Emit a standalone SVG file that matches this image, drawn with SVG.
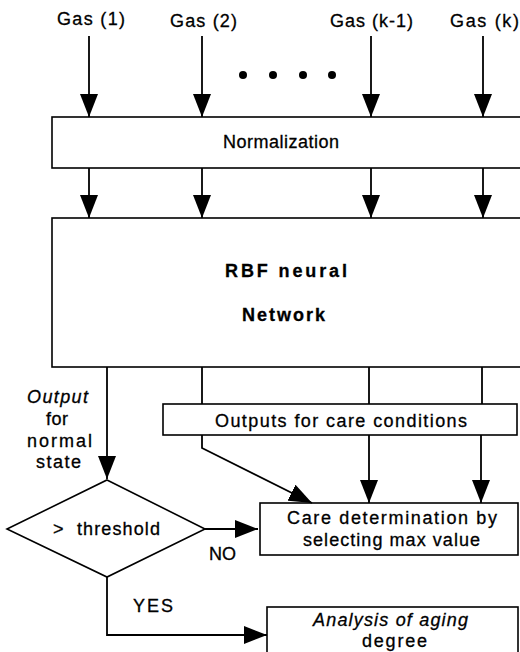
<svg xmlns="http://www.w3.org/2000/svg" width="520" height="652" viewBox="0 0 520 652">
<defs>
<style>
.box{fill:#fff;stroke:#000;stroke-width:1.6}
.ln{fill:none;stroke:#000;stroke-width:1.8}
text{font-family:"Liberation Sans",Arial,sans-serif;font-size:18px;fill:#000;stroke:#000;stroke-width:0.3}
.b{font-weight:bold}
.i{font-style:italic}
</style>
<marker id="ah" markerUnits="userSpaceOnUse" markerWidth="24" markerHeight="18" viewBox="0 0 24 18" refX="23" refY="9" orient="auto">
<path d="M0,0 L23,9 L0,18 Z" fill="#000"/>
</marker>
</defs>
<rect width="520" height="652" fill="#fff"/>

<g id="inputs">
<text x="57" y="25" textLength="68" lengthAdjust="spacing">Gas (1)</text>
<text x="170" y="27" textLength="67" lengthAdjust="spacing">Gas (2)</text>
<text x="330" y="27" textLength="83" lengthAdjust="spacing">Gas (k-1)</text>
<text x="450" y="27" textLength="69" lengthAdjust="spacing">Gas (k)</text>
<circle cx="243" cy="75" r="4"/>
<circle cx="273" cy="75" r="4"/>
<circle cx="303" cy="75" r="4"/>
<circle cx="332" cy="75" r="4"/>
</g>

<g id="normalization">
<rect class="box" x="52" y="117" width="475" height="51"/>
<text x="223" y="148" textLength="116" lengthAdjust="spacing">Normalization</text>
</g>

<g id="rbf">
<rect class="box" x="52" y="218" width="475" height="149"/>
<text class="b" x="225" y="277" textLength="122" lengthAdjust="spacing">RBF neural</text>
<text class="b" x="242" y="321" textLength="83" lengthAdjust="spacing">Network</text>
</g>

<g id="outputs">
<rect class="box" x="163" y="404" width="354" height="31"/>
<text x="215" y="427" textLength="252" lengthAdjust="spacing">Outputs for care conditions</text>
</g>

<g id="output-label">
<text class="i" x="27" y="403" textLength="61" lengthAdjust="spacing">Output</text>
<text x="46" y="425" textLength="22" lengthAdjust="spacing">for</text>
<text x="27" y="447" textLength="65" lengthAdjust="spacing">normal</text>
<text x="36" y="468" textLength="45" lengthAdjust="spacing">state</text>
</g>

<g id="threshold">
<polygon class="box" points="107,480 205,529 107,577 7,529"/>
<text x="53" y="535" xml:space="preserve" textLength="107" lengthAdjust="spacing">&gt;  threshold</text>
</g>

<g id="care">
<rect class="box" x="260" y="503" width="258" height="52"/>
<text x="287" y="524" textLength="210" lengthAdjust="spacing">Care determination by</text>
<text x="303" y="546" textLength="177" lengthAdjust="spacing">selecting max value</text>
</g>

<g id="analysis">
<rect class="box" x="267" y="607" width="251" height="60"/>
<text class="i" x="313" y="626" textLength="155" lengthAdjust="spacing">Analysis of aging</text>
<text x="362" y="647" textLength="65" lengthAdjust="spacing">degree</text>
</g>

<g id="connectors">
<line class="ln" x1="89" y1="36" x2="89" y2="117" marker-end="url(#ah)"/>
<line class="ln" x1="202" y1="36" x2="202" y2="117" marker-end="url(#ah)"/>
<line class="ln" x1="371" y1="36" x2="371" y2="117" marker-end="url(#ah)"/>
<line class="ln" x1="483" y1="36" x2="483" y2="117" marker-end="url(#ah)"/>
<line class="ln" x1="89" y1="168" x2="89" y2="218" marker-end="url(#ah)"/>
<line class="ln" x1="202" y1="168" x2="202" y2="218" marker-end="url(#ah)"/>
<line class="ln" x1="371" y1="168" x2="371" y2="218" marker-end="url(#ah)"/>
<line class="ln" x1="483" y1="168" x2="483" y2="218" marker-end="url(#ah)"/>
<line class="ln" x1="107" y1="367" x2="107" y2="479" marker-end="url(#ah)"/>
<line class="ln" x1="202" y1="367" x2="202" y2="404"/>
<line class="ln" x1="369" y1="367" x2="369" y2="404"/>
<line class="ln" x1="482" y1="367" x2="482" y2="404"/>
<polyline class="ln" points="202,435 202,448 312,503" marker-end="url(#ah)"/>
<line class="ln" x1="369" y1="435" x2="369" y2="503" marker-end="url(#ah)"/>
<line class="ln" x1="481" y1="435" x2="481" y2="503" marker-end="url(#ah)"/>
<line class="ln" x1="205" y1="529" x2="258" y2="529" marker-end="url(#ah)"/>
<polyline class="ln" points="107,577 107,635 267,635" marker-end="url(#ah)"/>
</g>

<g id="labels">
<text x="209" y="560">NO</text>
<text x="133" y="612" textLength="40" lengthAdjust="spacing">YES</text>
</g>
</svg>
